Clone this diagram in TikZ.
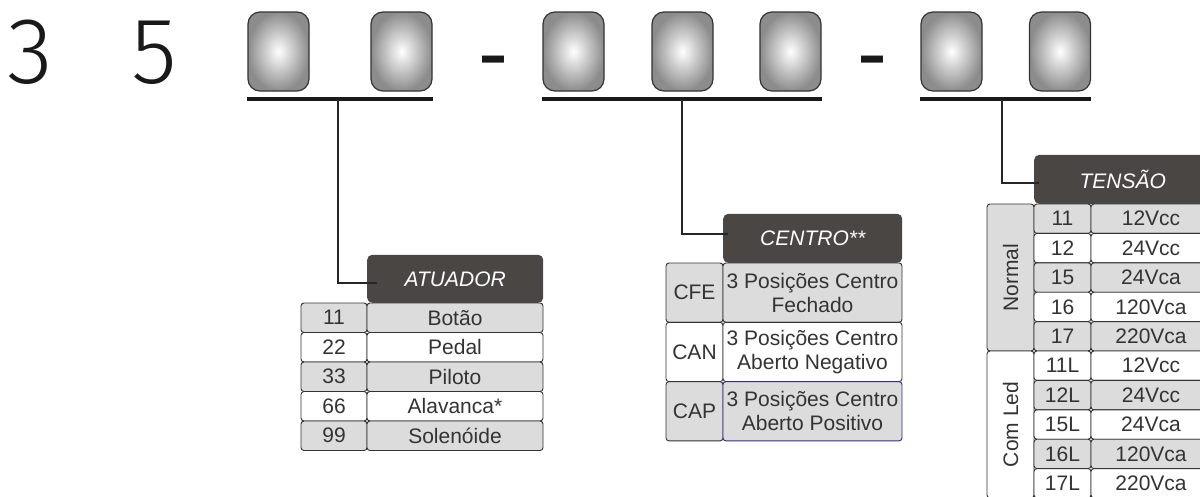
\documentclass[tikz,border=0pt]{standalone}
\usepackage{fontspec}
\setmainfont{Liberation Sans}
\newfontfamily\thinfont{Fira Sans Light}
\usetikzlibrary{positioning}
\definecolor{headgrey}{HTML}{4A4644}
\definecolor{cellgrey}{HTML}{DCDCDC}
\definecolor{celltext}{HTML}{333333}
\definecolor{capblue}{HTML}{2E2E80}

\begin{document}
\begin{tikzpicture}[x=1pt,y=-1pt,
  slot/.style={draw=black!80, line width=1.2pt, rounded corners=12pt,
    minimum width=61pt, minimum height=79pt, inner color=white, outer color=black!45},
  digit/.style={anchor=base, text=black!90, font=\thinfont\fontsize{94}{94}\selectfont},
  hyph/.style={anchor=base, text=black!90, font=\fontsize{90}{90}\selectfont},
  bar/.style={line width=4pt, black!90},
  stem/.style={line width=2pt, black!85},
  head/.style={anchor=south west, fill=headgrey, rounded corners=5pt, text=white,
    minimum height=49pt, inner sep=0pt, font=\fontsize{21}{21}\selectfont\itshape},
  cell/.style={draw=black!80, line width=0.9pt, rounded corners=3pt, inner sep=0pt,
    outer sep=0pt, text=celltext, align=center, font=\fontsize{21}{24}\selectfont},
  gcell/.style={cell, fill=cellgrey},
  wcell/.style={cell, fill=white},
  anum/.style={minimum width=66pt, minimum height=29.5pt},
  atxt/.style={minimum width=176pt, minimum height=29.5pt},
  cnum/.style={minimum width=57pt, minimum height=59.3pt},
  ctxt/.style={minimum width=179pt, minimum height=59.3pt},
  tside/.style={minimum width=47pt, minimum height=147pt},
  tnum/.style={minimum width=57pt, minimum height=29.4pt},
  tval/.style={minimum width=120pt, minimum height=29.4pt},
  sidetext/.style={rotate=90, text=celltext, font=\fontsize{21}{21}\selectfont}]
  \clip (0,0) rectangle (1200,496);

  % code line
  \node[digit] (D3) at (30,83) {3};
  \node[digit] (D5) at (154,83) {5};
  \node[slot] (S1) at (278.5,51.5) {};
  \node[slot] (S2) at (401.5,51.5) {};
  \node[hyph] (H1) at (493,83) {-};
  \node[slot] (S3) at (573.5,51.5) {};
  \node[slot] (S4) at (682.5,51.5) {};
  \node[slot] (S5) at (790.5,51.5) {};
  \node[hyph] (H2) at (872,83) {-};
  \node[slot] (S6) at (951.5,51.5) {};
  \node[slot] (S7) at (1060,51.5) {};

  \coordinate (G1) at (338,99);
  \coordinate (G2) at (682,99);
  \coordinate (G3) at (1002,99);
  \draw[bar] (S1.west |- G1) -- (S2.east |- G1);
  \draw[bar] (S3.west |- G2) -- (S5.east |- G2);
  \draw[bar] (S6.west |- G3) -- (S7.east |- G3);

  % atuador
  \node[gcell, anum, anchor=north west] (A11) at (301,303) {11};
  \node[gcell, atxt, right=0pt of A11] (A11t) {Botão};
  \node[wcell, anum, below=0pt of A11] (A22) {22};
  \node[wcell, atxt, right=0pt of A22] (A22t) {Pedal};
  \node[gcell, anum, below=0pt of A22] (A33) {33};
  \node[gcell, atxt, right=0pt of A33] (A33t) {Piloto};
  \node[wcell, anum, below=0pt of A33] (A66) {66};
  \node[wcell, atxt, right=0pt of A66] (A66t) {Alavanca*};
  \node[gcell, anum, below=0pt of A66] (A99) {99};
  \node[gcell, atxt, right=0pt of A99] (A99t) {Solenóide};
  \node[head, minimum width=176pt, minimum height=48pt] (ATU) at (A11t.north west) {ATUADOR};

  % centro
  \node[gcell, cnum, anchor=north west] (CFE) at (666,263) {CFE};
  \node[gcell, ctxt, right=0pt of CFE] (CFEt) {3 Posições Centro\\Fechado};
  \node[wcell, cnum, below=0pt of CFE] (CAN) {CAN};
  \node[wcell, ctxt, right=0pt of CAN] (CANt) {3 Posições Centro\\Aberto Negativo};
  \node[gcell, cnum, below=0pt of CAN] (CAP) {CAP};
  \node[gcell, ctxt, draw=capblue, right=0pt of CAP] (CAPt) {3 Posições Centro\\Aberto Positivo};
  \node[head, minimum width=179pt] (CEN) at (CFEt.north west) {CENTRO**};

  % tensao
  \node[gcell, tside, anchor=north west] (NOR) at (987,204) {};
  \node[sidetext] (NORt) at (NOR) {Normal};
  \node[wcell, tside, below=0pt of NOR] (LED) {};
  \node[sidetext] (LEDt) at (LED) {Com Led};
  \node[gcell, tnum, anchor=north west] (T11) at (NOR.north east) {11};
  \node[gcell, tval, right=0pt of T11] (T11t) {12Vcc};
  \node[wcell, tnum, below=0pt of T11] (T12) {12};
  \node[wcell, tval, right=0pt of T12] (T12t) {24Vcc};
  \node[gcell, tnum, below=0pt of T12] (T15) {15};
  \node[gcell, tval, right=0pt of T15] (T15t) {24Vca};
  \node[wcell, tnum, below=0pt of T15] (T16) {16};
  \node[wcell, tval, right=0pt of T16] (T16t) {120Vca};
  \node[gcell, tnum, below=0pt of T16] (T17) {17};
  \node[gcell, tval, right=0pt of T17] (T17t) {220Vca};
  \node[wcell, tnum, below=0pt of T17] (L11) {11L};
  \node[wcell, tval, right=0pt of L11] (L11t) {12Vcc};
  \node[gcell, tnum, below=0pt of L11] (L12) {12L};
  \node[gcell, tval, right=0pt of L12] (L12t) {24Vcc};
  \node[wcell, tnum, below=0pt of L12] (L15) {15L};
  \node[wcell, tval, right=0pt of L15] (L15t) {24Vca};
  \node[gcell, tnum, below=0pt of L15] (L16) {16L};
  \node[gcell, tval, right=0pt of L16] (L16t) {120Vca};
  \node[wcell, tnum, below=0pt of L16] (L17) {17L};
  \node[wcell, tval, right=0pt of L17] (L17t) {220Vca};
  \node[head, minimum width=177pt] (TEN) at (T11.north west) {TENSÃO};

  \draw[stem] (G1) |- ([xshift=10pt,yshift=-4pt]ATU.west);
  \draw[stem] (G2) |- ([xshift=5pt,yshift=4.5pt]CEN.west);
  \draw[stem] (G3) |- ([xshift=5pt,yshift=-3.5pt]TEN.west);
\end{tikzpicture}
\end{document}
